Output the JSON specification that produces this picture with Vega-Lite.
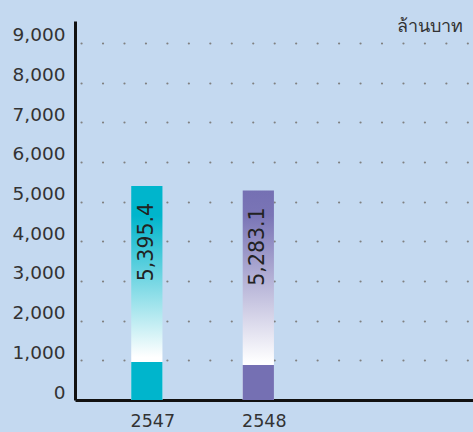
{
  "$schema": "https://vega.github.io/schema/vega-lite/v6.json",
  "width": 398,
  "height": 379,
  "autosize": {"type": "none"},
  "padding": {"left": 75, "top": 21, "right": 0, "bottom": 32},
  "background": "#c4d9f0",
  "config": {
    "view": {"stroke": null},
    "font": "DejaVu Sans"
  },
  "data": {
    "values": [
      {"year": "2547", "value": 5395.4, "base": 957},
      {"year": "2548", "value": 5283.1, "base": 882}
    ]
  },
  "encoding": {
    "x": {
      "field": "year",
      "type": "nominal",
      "scale": {"domain": ["2547", "2548", "2549"], "paddingInner": 0.72, "paddingOuter": 0.645, "align": 0.391},
      "axis": {
        "values": ["2547", "2548"],
        "title": null,
        "ticks": false,
        "labelAngle": 0,
        "labelFont": "DejaVu Sans",
        "labelFontSize": 17.5,
        "labelColor": "#333333",
        "labelPadding": 12,
        "labelOffset": 6,
        "domainColor": "#111111",
        "domainWidth": 3
      }
    }
  },
  "layer": [
    {
      "transform": [{"filter": "datum.year == '2547'"}],
      "mark": {
        "type": "bar",
        "color": {
          "gradient": "linear",
          "x1": 0, "y1": 0, "x2": 0, "y2": 1,
          "stops": [
            {"offset": 0, "color": "#00b5cc"},
            {"offset": 0.14, "color": "#00b5cc"},
            {"offset": 0.8, "color": "#ffffff"},
            {"offset": 1, "color": "#ffffff"}
          ]
        }
      },
      "encoding": {
        "y": {
          "field": "value",
          "type": "quantitative",
          "scale": {"domain": [0, 9554], "nice": false},
          "axis": {
            "values": [0, 1000, 2000, 3000, 4000, 5000, 6000, 7000, 8000, 9000],
            "format": ",d",
            "title": "ล้านบาท",
            "titleAngle": 0,
            "titleX": 387,
            "titleY": 10,
            "titleAlign": "right",
            "titleBaseline": "alphabetic",
            "titleFont": "Noto Sans",
            "titleFontSize": 18,
            "titleFontWeight": "normal",
            "titleColor": "#333333",
            "ticks": false,
            "labelFont": "DejaVu Sans",
            "labelFontSize": 18.5,
            "labelColor": "#333333",
            "labelPadding": 10,
            "labelBaseline": "alphabetic",
            "labelOffset": -2,
            "domainColor": "#111111",
            "domainWidth": 3,
            "grid": true,
            "gridColor": "#808080",
            "gridWidth": 2.2,
            "gridCap": "round",
            "gridDash": [0.01, 21.45],
            "gridDashOffset": 15.4
          }
        }
      }
    },
    {
      "transform": [{"filter": "datum.year == '2548'"}],
      "mark": {
        "type": "bar",
        "color": {
          "gradient": "linear",
          "x1": 0, "y1": 0, "x2": 0, "y2": 1,
          "stops": [
            {"offset": 0, "color": "#7570b3"},
            {"offset": 0.12, "color": "#7a75b6"},
            {"offset": 0.82, "color": "#ffffff"},
            {"offset": 1, "color": "#ffffff"}
          ]
        }
      },
      "encoding": {
        "y": {"field": "value", "type": "quantitative"}
      }
    },
    {
      "mark": {"type": "bar"},
      "encoding": {
        "y": {"field": "base", "type": "quantitative"},
        "color": {
          "field": "year",
          "type": "nominal",
          "scale": {"domain": ["2547", "2548"], "range": ["#00b5cc", "#7570b3"]},
          "legend": null
        }
      }
    },
    {
      "mark": {
        "type": "text",
        "angle": 270,
        "align": "right",
        "baseline": "middle",
        "dx": -17,
        "font": "DejaVu Sans",
        "fontSize": 20.5,
        "color": "#222222"
      },
      "encoding": {
        "y": {"field": "value", "type": "quantitative"},
        "text": {"field": "value", "type": "quantitative", "format": ",.1f"}
      }
    }
  ]
}
